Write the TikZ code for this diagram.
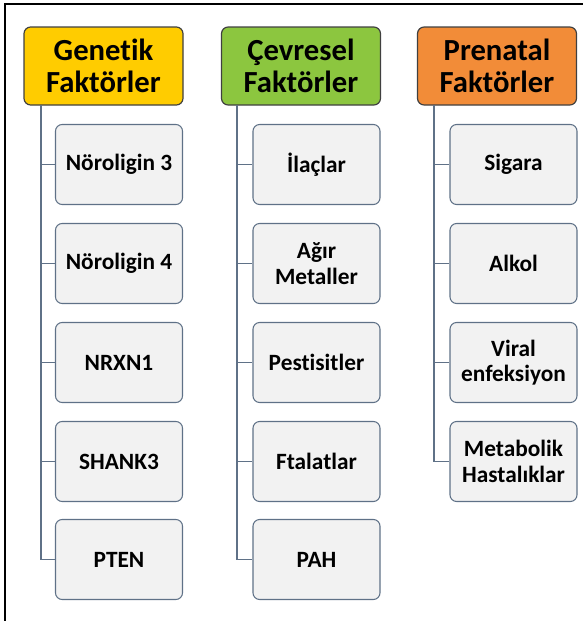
\documentclass[tikz,border=0pt]{standalone}
\usepackage{fontspec}
\setmainfont[Ligatures=NoCommon]{Carlito}

\definecolor{genyellow}{HTML}{FFCC00}
\definecolor{cevgreen}{HTML}{8CC63F}
\definecolor{preorange}{HTML}{F28C38}
\definecolor{boxgray}{HTML}{F2F2F2}
\definecolor{lineblue}{HTML}{5F7187}

\begin{document}
\begin{tikzpicture}[x=0.75pt, y=-0.75pt,
    header/.style={draw=black!75, line width=0.9pt, rounded corners=5pt,
        minimum width=159*0.75pt, minimum height=78*0.75pt, align=center,
        font=\fontsize{23}{24}\selectfont\bfseries, inner sep=0pt},
    item/.style={draw=lineblue, fill=boxgray, line width=0.8pt, rounded corners=5pt,
        minimum width=127*0.75pt, minimum height=80*0.75pt, align=center,
        font=\fontsize{17.5}{19}\selectfont\bfseries, inner sep=0pt},
    conn/.style={draw=lineblue, line width=0.8pt}]
    \useasboundingbox (0, 0) rectangle (583, 621);
    \draw[line width=1pt] (5, 621) -- (5, 4) -- (583, 4);

    % headers
    \node[header, fill=genyellow] (gen) at (103.5, 66) {Genetik\\Faktörler};
    \node[header, fill=cevgreen] (cev) at (301, 66) {Çevresel\\Faktörler};
    \node[header, fill=preorange] (pre) at (497, 66) {Prenatal\\Faktörler};

    % genetik
    \node[item] (nlg3) at (119, 164.5) {Nöroligin 3};
    \node[item] (nlg4) at (119, 263.5) {Nöroligin 4};
    \node[item] (nrxn) at (119, 362.5) {NRXN1};
    \node[item] (shank) at (119, 461.5) {SHANK3};
    \node[item] (pten) at (119, 559.5) {PTEN};

    % cevresel
    \node[item] (ilac) at (316.5, 164.5) {İlaçlar};
    \node[item] (metal) at (316.5, 263.5) {Ağır\\Metaller};
    \node[item] (pest) at (316.5, 362.5) {Pestisitler};
    \node[item] (ftal) at (316.5, 461.5) {Ftalatlar};
    \node[item] (pah) at (316.5, 559.5) {PAH};

    % prenatal
    \node[item] (sig) at (513.5, 164.5) {Sigara};
    \node[item] (alk) at (513.5, 263.5) {Alkol};
    \node[item] (vir) at (513.5, 362.5) {Viral\\enfeksiyon};
    \node[item] (meta) at (513.5, 461.5) {Metabolik\\Hastalıklar};

    \coordinate (gtrunk) at (41, 105);
    \coordinate (ctrunk) at (237, 105);
    \coordinate (ptrunk) at (434, 105);

    \draw[conn] (gtrunk) |- (pten.west);
    \foreach \n in {nlg3, nlg4, nrxn, shank}
        \draw[conn] (gtrunk |- \n.west) -- (\n.west);
    \draw[conn] (ctrunk) |- (pah.west);
    \foreach \n in {ilac, metal, pest, ftal}
        \draw[conn] (ctrunk |- \n.west) -- (\n.west);
    \draw[conn] (ptrunk) |- (meta.west);
    \foreach \n in {sig, alk, vir}
        \draw[conn] (ptrunk |- \n.west) -- (\n.west);
\end{tikzpicture}
\end{document}
